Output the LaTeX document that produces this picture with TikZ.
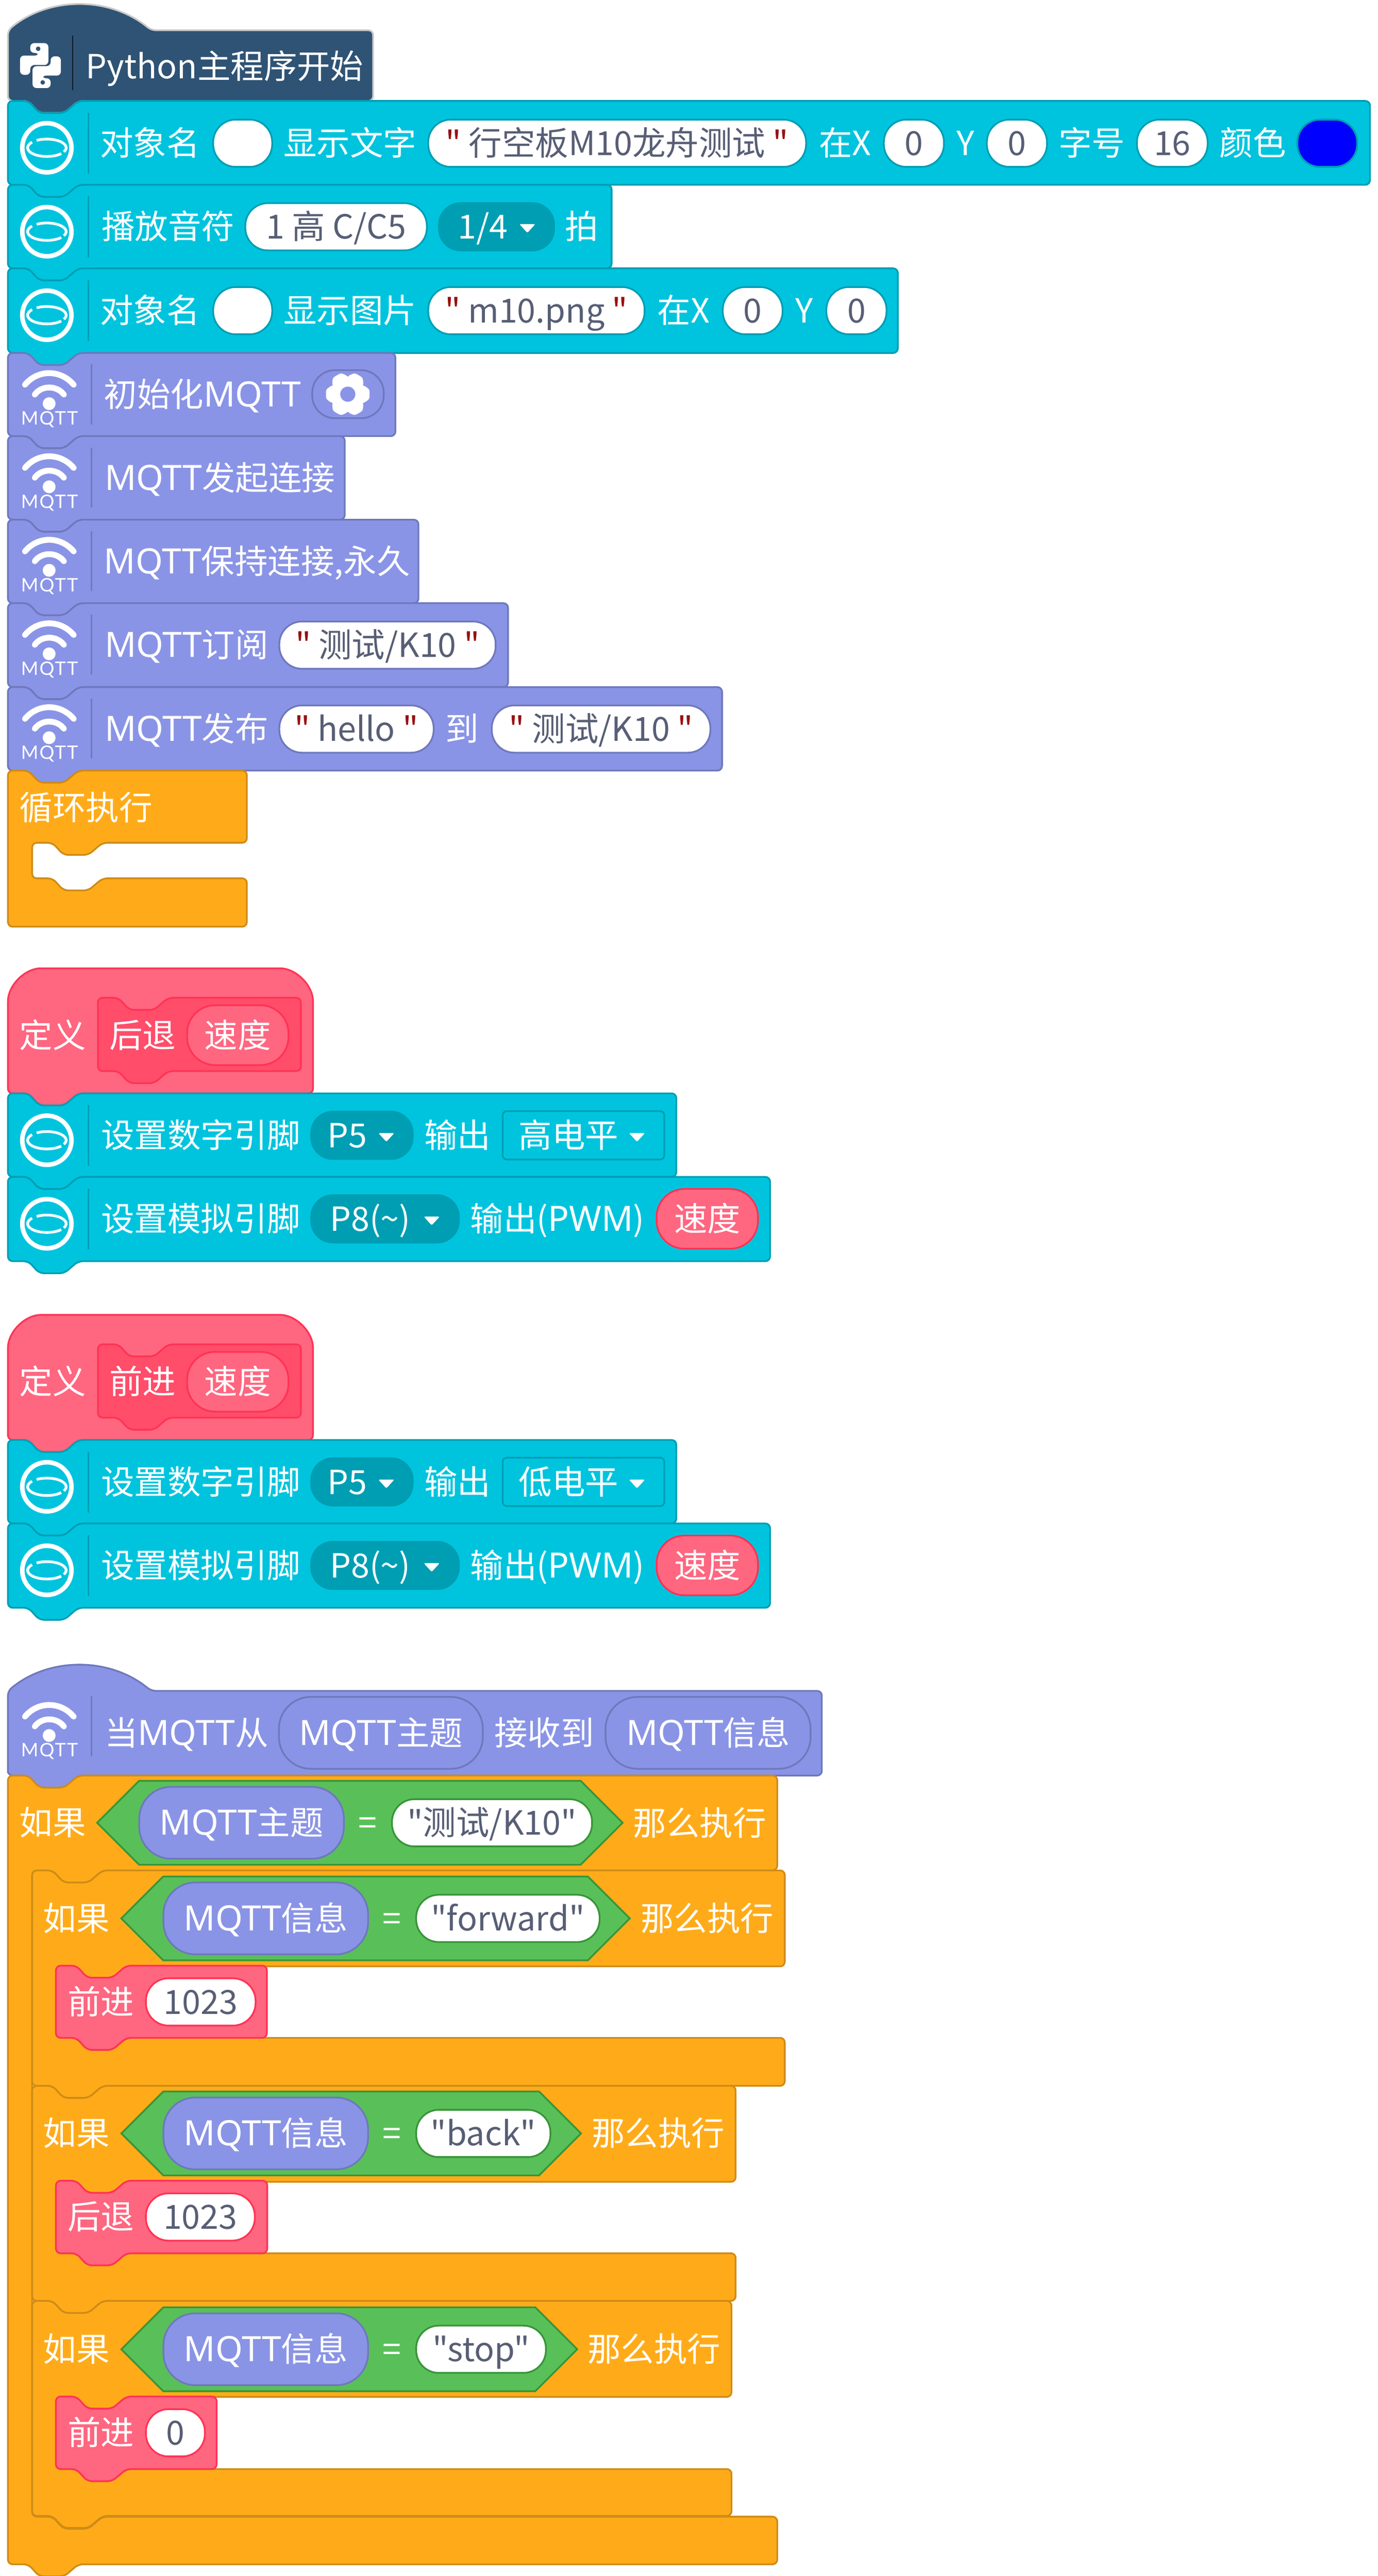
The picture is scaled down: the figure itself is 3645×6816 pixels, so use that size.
\documentclass[tikz,border=0pt]{standalone}
\usepackage{fontspec}
\setmainfont[Ligatures=TeXOff]{Noto Sans CJK SC}
\newfontfamily\iconfont[LetterSpace=6]{Lato}
\newfontfamily\latfont[Scale=1.05]{Noto Sans}
\usetikzlibrary{positioning}
\definecolor{cyanfill}{HTML}{00C4DE}
\definecolor{cyanline}{HTML}{009EB3}
\definecolor{mqfill}{HTML}{8A94E6}
\definecolor{mqline}{HTML}{6F78BC}
\definecolor{orfill}{HTML}{FFAB19}
\definecolor{orline}{HTML}{CF8B17}
\definecolor{pkfill}{HTML}{FF6680}
\definecolor{pkline}{HTML}{FF3355}
\definecolor{pkdark}{HTML}{FF4D6A}
\definecolor{grfill}{HTML}{59C059}
\definecolor{grline}{HTML}{389438}
\definecolor{pyfill}{HTML}{2F5374}
\definecolor{pyline}{HTML}{C9C9C9}
\definecolor{valtext}{HTML}{575E75}
\definecolor{quotered}{HTML}{990F0F}
\tikzset{
  blockline/.style = {line width=1.3pt, rounded corners=3.5pt},
  pyblk/.style = {blockline, fill=pyfill, draw=pyline},
  cyanblk/.style = {blockline, fill=cyanfill, draw=cyanline},
  mqblk/.style = {blockline, fill=mqfill, draw=mqline},
  orblk/.style = {blockline, fill=orfill, draw=orline},
  pkblk/.style = {blockline, fill=pkfill, draw=pkline},
  pkinner/.style = {blockline, fill=pkdark, draw=pkline},
  hexblk/.style = {line width=1.3pt, fill=grfill, draw=grline},
  lbl/.style = {text=white, inner sep=0pt, text height=18.4pt, text depth=0pt,
    font=\fontsize{25}{28}\selectfont},
  pill/.style = {lbl, shape=rectangle, rounded corners=17pt, draw, line width=1.3pt,
    fill=white, text=valtext, minimum height=1.25cm},
  pillcy/.style = {pill, draw=cyanline},
  pillmq/.style = {pill, draw=mqline},
  pillgr/.style = {pill, draw=grline},
  pillpk/.style = {pill, draw=pkline},
  varmq/.style = {pill, draw=mqline, fill=mqfill, text=white, rounded corners=24pt, minimum height=1.9cm},
  varpk/.style = {pill, draw=pkline, fill=pkfill, text=white, rounded corners=21pt, minimum height=1.58cm},
  ddcy/.style = {pill, draw=none, fill=cyanline, minimum height=1.3cm},
  ddbox/.style = {pill, draw=cyanline, fill=cyanfill, rounded corners=3pt, minimum height=1.28cm},
  sepcy/.style = {line width=1pt, draw=cyanline},
  sepmq/.style = {line width=1pt, draw=mqline},
}
\newcommand{\qm}{\textcolor{quotered}{"}}
\newcommand{\mq}{{\latfont MQTT}}
\newcommand{\stackshape}[5]{
  \draw[#1] (#2,#3+40) -- (#2,#3) -- (#2+54,#3) -- (#2+83,#3+32) -- (#2+149,#3+32) -- (#2+186,#3)
    -- (#4,#3) -- (#4,#5) -- (#2+186,#5) -- (#2+149,#5+32) -- (#2+83,#5+32) -- (#2+54,#5) -- (#2,#5) -- cycle;
}
\newcommand{\cshape}[9]{
  \draw[#1] (#2,#3+40) -- (#2,#3) -- (#2+54,#3) -- (#2+83,#3+32) -- (#2+149,#3+32) -- (#2+186,#3)
    -- (#4,#3) -- (#4,#5) -- (#6+186,#5) -- (#6+149,#5+32) -- (#6+83,#5+32) -- (#6+54,#5) -- (#6,#5)
    -- (#6,#7) -- (#6+54,#7) -- (#6+83,#7+32) -- (#6+149,#7+32) -- (#6+186,#7) -- (#4,#7)
    -- (#4,#8) -- (#2+186,#8) -- (#2+149,#8+#9) -- (#2+83,#8+#9) -- (#2+54,#8) -- (#2,#8) -- cycle;
}
\newcommand{\hatshape}[4]{
  \draw[#1] (21,#4) -- (21,#2+67) .. controls (130,#2-23) and (290,#2-23) .. (400,#2+67)
    -- (#3,#2+67) -- (#3,#4) -- (207,#4) -- (170,#4+32) -- (104,#4+32) -- (75,#4) -- (21,#4) -- cycle;
}
\newcommand{\ringicon}[1]{
  \draw[sepcy] (234,#1+31) -- (234,#1+192);
  \draw[white, line width=3.4pt] (124,#1+124) circle (0.65cm);
  \draw[white, line width=2pt] ({124+51*cos(140)},{#1+124-23*sin(140)}) arc[start angle=140, end angle=318, x radius=0.51cm, y radius=0.23cm];
  \draw[white, line width=2pt] ({124+51*cos(-28)},{#1+124-23*sin(-28)}) arc[start angle=-28, end angle=122, x radius=0.51cm, y radius=0.23cm];
}
\newcommand{\mqicon}[1]{
  \draw[sepmq] (242,#1+30) -- (242,#1+189);
  \draw[white, line width=4.4pt, line cap=round] (66,#1+84) .. controls (100,#1+43) and (160,#1+43) .. (195,#1+84);
  \draw[white, line width=4.4pt, line cap=round] (92,#1+110) .. controls (110,#1+85) and (150,#1+85) .. (169,#1+110);
  \fill[white] (130,#1+134) circle (0.17cm);
  \node[text=white, inner sep=0pt, font=\iconfont\fontsize{14}{15}\selectfont] (mqicon#1) at (131,#1+176) {MQTT};
}
\newcommand{\ddtri}[2]{
  \fill[white, rounded corners=1pt] (#1-21,#2-10) -- (#1+21,#2-10) -- (#1,#2+13) -- cycle;
}
\newcommand{\pinpair}[3]{
  \stackshape{cyanblk}{21}{#2}{1789}{#2+221}
  \ringicon{#2}
  \node[lbl] (#1digit) at (531,#2+111) {设置数字引脚};
  \node[ddcy, minimum width=2.73cm] (#1p) at (957.5,#2+111) {};
  \node[lbl] (#1ptext) at (918.5,#2+111) {P5};
  \ddtri{1022}{#2+115}
  \node[lbl] (#1out) at (1210,#2+111) {输出};
  \node[ddbox, minimum width=4.27cm] (#1lvl) at (1543.5,#2+111) {};
  \node[lbl] (#1lvltext) at (1504.5,#2+111) {#3};
  \ddtri{1685}{#2+115}
  \stackshape{cyanblk}{21}{#2+221}{2037}{#2+444}
  \ringicon{#2+221}
  \node[lbl] (#1ana) at (531,#2+332) {设置模拟引脚};
  \node[ddcy, minimum width=3.95cm] (#1q) at (1018.5,#2+332) {};
  \node[lbl] (#1qtext) at (979.5,#2+332) {P8(\textasciitilde)};
  \ddtri{1142}{#2+336}
  \node[lbl] (#1pwm) at (1474.5,#2+332) {输出({\latfont PWM})};
  \node[varpk, minimum width=2.68cm] (#1spd) at (1871,#2+332) {速度};
}
\newcommand{\procdef}[3]{
  \draw[pkblk] (21,#2+331) -- (21,#2+100) .. controls (21,#2+45) and (66,#2) .. (121,#2)
    -- (728,#2) .. controls (783,#2) and (828,#2+45) .. (828,#2+100)
    -- (828,#2+331) -- (207,#2+331) -- (170,#2+363) -- (104,#2+363) -- (75,#2+331) -- cycle;
  \stackshape{pkinner}{259}{#2+78}{796}{#2+272}
  \node[lbl] (#1def) at (139.5,#2+177) {定义};
  \node[lbl] (#1name) at (377,#2+177) {#3};
  \node[varpk, minimum width=2.68cm] (#1arg) at (629,#2+177) {速度};
}
\newcommand{\callblock}[8]{
  \stackshape{pkblk}{148}{#2}{#3}{#4}
  \node[lbl] (#1name) at (266.5,#2+96) {#5};
  \node[pillpk, minimum width=#8] (#1val) at (#7,#2+96) {#6};
}
\newcommand{\ifhead}[9]{
  \node[lbl] (#1if) at (#2,#4) {如果};
  \draw[hexblk] (#3,#4) -- (#3+111,#4-111) -- (#5,#4-111) -- (#5+111,#4) -- (#5,#4+111) -- (#3+111,#4+111) -- cycle;
  \node[varmq, minimum width=5.41cm] (#1var) at (#3+382,#4) {#6};
  \node[lbl] (#1eq) at (#3+715,#4) {=};
  \node[pillgr, minimum width=#8] (#1val) at (#7,#4) {#9};
}
\begin{document}
\begin{tikzpicture}[x=0.01cm, y=-0.01cm]
  \useasboundingbox (0,0) rectangle (3645,6816);
  \hatshape{pyblk}{13}{987}{267}
  \draw[line width=1pt, draw=black!70!pyfill] (192,94) -- (192,239);
  \fill[white, rounded corners=3pt] (80,140) -- (80,114) -- (128,114) -- (128,172) -- (80,172) -- (80,198)
    -- (53,198) -- (53,147) -- (103,147) -- (103,140) -- cycle;
  \fill[white, rounded corners=3pt] (134,207) -- (134,233) -- (86,233) -- (86,175) -- (134,175) -- (134,149)
    -- (161,149) -- (161,200) -- (111,200) -- (111,207) -- cycle;
  \fill[pyfill] (101,129) circle (0.06cm) (113,218) circle (0.06cm);
  \node[lbl] (pystart) at (594.5,175) {Python主程序开始};

  \stackshape{cyanblk}{21}{267}{3624}{489}
  \ringicon{267}
  \node[lbl] (objtext) at (397,379) {对象名};
  \node[pillcy, minimum width=1.56cm] (objtextval) at (642,379) {};
  \node[lbl] (showtext) at (926,379) {显示文字};
  \node[pillcy, minimum width=9.99cm] (textval) at (1632.5,379) {\qm\ 行空板M10龙舟测试 \qm};
  \node[lbl] (atxa) at (2235.5,379) {在X};
  \node[pillcy, minimum width=1.59cm] (xa) at (2417.5,379) {0};
  \node[lbl] (atya) at (2554,379) {Y};
  \node[pillcy, minimum width=1.59cm] (ya) at (2690,379) {0};
  \node[lbl] (fsize) at (2888,379) {字号};
  \node[pillcy, minimum width=1.87cm] (fsizeval) at (3101,379) {16};
  \node[lbl] (fcolor) at (3314,379) {颜色};
  \node[pillcy, fill=blue, minimum width=1.58cm] (fcolorval) at (3511,379) {};

  \stackshape{cyanblk}{21}{489}{1618}{710}
  \ringicon{489}
  \node[lbl] (playnote) at (445,600) {播放音符};
  \node[pillcy, minimum width=4.80cm] (noteval) at (889,600) {1 高 C/C5};
  \node[ddcy, minimum width=3.09cm] (beatval) at (1313.5,600) {};
  \node[lbl] (beattext) at (1277,600) {1/4};
  \ddtri{1395}{603}
  \node[lbl] (beat) at (1539,600) {拍};

  \stackshape{cyanblk}{21}{710}{2375}{934}
  \ringicon{710}
  \node[lbl] (objimg) at (397,822) {对象名};
  \node[pillcy, minimum width=1.56cm] (objimgval) at (642,822) {};
  \node[lbl] (showimg) at (926,822) {显示图片};
  \node[pillcy, minimum width=5.72cm] (imgval) at (1419,822) {\qm\ m10.png \qm};
  \node[lbl] (atxb) at (1808,822) {在X};
  \node[pillcy, minimum width=1.58cm] (xb) at (1991,822) {0};
  \node[lbl] (atyb) at (2128,822) {Y};
  \node[pillcy, minimum width=1.59cm] (yb) at (2265.5,822) {0};

  \stackshape{mqblk}{21}{934}{1046}{1154}
  \mqicon{934}
  \node[lbl] (mqinit) at (536,1044) {初始化\mq};
  \node[pillmq, fill=mqfill, minimum width=1.89cm, minimum height=1.27cm] (mqgear) at (920.5,1043) {};
  \fill[white] (920,1043) circle (0.47cm);
  \foreach \a in {0,60,...,300}
    \fill[white, rounded corners=1.5pt] ({920+48*cos(\a-30)},{1043+48*sin(\a-30)}) -- ({920+59*cos(\a-12)},{1043+59*sin(\a-12)})
      -- ({920+59*cos(\a+12)},{1043+59*sin(\a+12)}) -- ({920+48*cos(\a+30)},{1043+48*sin(\a+30)}) -- (920,1043) -- cycle;
  \fill[mqfill] (920,1043) circle (0.2cm);

  \stackshape{mqblk}{21}{1154}{912}{1375}
  \mqicon{1154}
  \node[lbl] (mqconn) at (581.5,1265) {\mq 发起连接};

  \stackshape{mqblk}{21}{1375}{1107}{1596}
  \mqicon{1375}
  \node[lbl] (mqkeep) at (680,1486) {\mq 保持连接,永久};

  \stackshape{mqblk}{21}{1596}{1344}{1818}
  \mqicon{1596}
  \node[lbl] (mqsub) at (493.5,1707) {\mq 订阅};
  \node[pillmq, minimum width=5.72cm] (subval) at (1025,1707) {\qm\ 测试/K10 \qm};

  \stackshape{mqblk}{21}{1818}{1910}{2039}
  \mqicon{1818}
  \node[lbl] (mqpub) at (493.5,1929) {\mq 发布};
  \node[pillmq, minimum width=4.08cm] (pubval) at (943,1929) {\qm\ hello \qm};
  \node[lbl] (pubto) at (1222,1929) {到};
  \node[pillmq, minimum width=5.78cm] (pubtopic) at (1590,1929) {\qm\ 测试/K10 \qm};

  \cshape{orblk}{21}{2039}{653}{2230}{85}{2324}{2452}{0}
  \node[lbl] (loop) at (227,2137) {循环执行};

  \procdef{back}{2562}{后退}
  \pinpair{bk}{2893}{高电平}
  \procdef{fwd}{3479}{前进}
  \pinpair{fw}{3810}{低电平}

  \hatshape{mqblk}{4407}{2174}{4698}
  \mqicon{4458}
  \node[lbl] (onmsg) at (493.5,4585) {当\mq 从};
  \node[varmq, minimum width=5.39cm] (topicvar) at (1007.5,4585) {\mq 主题};
  \node[lbl] (recv) at (1439.5,4585) {接收到};
  \node[varmq, minimum width=5.42cm] (msgvar) at (1873,4585) {\mq 信息};

  \cshape{orblk}{21}{4698}{2056}{4949}{85}{6659}{6785}{32}
  \ifhead{outer}{139.5}{257}{4823}{1536}{\mq 主题}{1301.5}{5.29cm}{"测试/K10"}
  \node[lbl] (outerthen) at (1851,4824) {那么执行};

  \cshape{orblk}{85}{4949}{2076}{5203}{148}{5392}{5519}{32}
  \ifhead{fw}{202}{321}{5076}{1555}{\mq 信息}{1343.5}{4.85cm}{"forward"}
  \node[lbl] (fwthen) at (1870.5,5076) {那么执行};
  \callblock{callfw}{5201}{706}{5392}{前进}{1023}{531}{2.90cm}

  \cshape{orblk}{85}{5519}{1946}{5773}{148}{5962}{6088}{32}
  \ifhead{bk}{202}{321}{5645}{1426}{\mq 信息}{1278.5}{3.55cm}{"back"}
  \node[lbl] (bkthen) at (1741,5645) {那么执行};
  \callblock{callbk}{5770}{707}{5962}{后退}{1023}{530}{2.88cm}

  \cshape{orblk}{85}{6088}{1935}{6342}{148}{6533}{6657}{32}
  \ifhead{st}{202}{321}{6216}{1416}{\mq 信息}{1272.5}{3.43cm}{"stop"}
  \node[lbl] (stthen) at (1730,6216) {那么执行};
  \callblock{callst}{6341}{573}{6533}{前进}{0}{464}{1.56cm}
\end{tikzpicture}
\end{document}
